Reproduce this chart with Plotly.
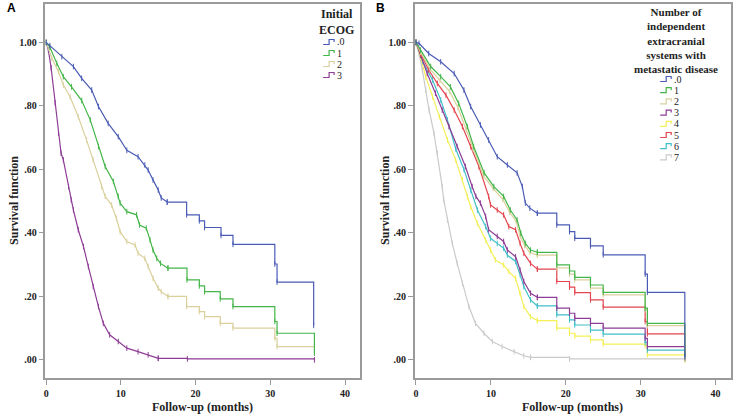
import plotly.graph_objects as go

# ---------------- data ----------------
# Panel A: Initial ECOG
A0_t = [0, 0.5, 2.1, 3.65, 4.76, 6.1, 7.0, 8.3, 9.65, 10.8, 12.3, 13.2, 13.65, 14.3, 15.0, 15.4, 16.2,
        18.8, 20.5, 21.2, 23.4, 25.0, 30.6, 30.9, 35.8]
A0_s = [1.0, 0.99, 0.955, 0.924, 0.887, 0.85, 0.798, 0.745, 0.703, 0.66, 0.64, 0.614, 0.598, 0.567, 0.535, 0.51, 0.497,
        0.457, 0.438, 0.417, 0.392, 0.364, 0.302, 0.245, 0.109]
A1_t = [0, 0.5, 1.43, 2.3, 3.4, 4.76, 5.9, 7.0, 7.9, 9.0, 9.65, 9.9, 10.8, 12.1, 12.5, 13.4, 13.9, 14.3, 14.8, 15.3, 16.3,
        18.85, 20.5, 21.2, 23.3, 25.0, 30.6, 30.9, 35.9]
A1_s = [1.0, 0.985, 0.934, 0.892, 0.86, 0.817, 0.756, 0.672, 0.609, 0.562, 0.515, 0.494, 0.467, 0.457, 0.425, 0.415, 0.378, 0.346, 0.32, 0.304, 0.289,
        0.252, 0.233, 0.215, 0.192, 0.168, 0.121, 0.084, 0.021]
A2_t = [0, 0.76, 1.65, 2.3, 3.2, 4.3, 5.4, 6.3, 7.4, 7.9, 8.76, 9.4, 9.9, 10.8, 11.9, 12.3, 13.2, 13.65, 14.3, 15.0, 15.4, 16.3,
        18.8, 20.5, 21.2, 23.3, 25.0, 30.6, 30.9, 35.9]
A2_s = [1.0, 0.95, 0.908, 0.866, 0.829, 0.766, 0.693, 0.63, 0.546, 0.515, 0.488, 0.446, 0.404, 0.373, 0.362, 0.336, 0.32, 0.294, 0.257, 0.226, 0.215, 0.2,
        0.168, 0.152, 0.136, 0.115, 0.1, 0.068, 0.042, 0.042]
A3_t = [0, 0.3, 0.67, 1.2, 1.65, 2.0, 2.3, 3.0, 3.35, 3.65, 4.3, 5.0, 5.65, 6.3, 7.0, 7.65, 8.5, 9.65, 10.8, 12.3, 13.65, 15.0,
        18.9, 35.9]
A3_s = [1.0, 0.976, 0.92, 0.81, 0.714, 0.651, 0.63, 0.546, 0.504, 0.472, 0.41, 0.357, 0.294, 0.231, 0.168, 0.115, 0.079, 0.058, 0.037, 0.026, 0.016, 0.005,
        0.003, 0.0]

# Panel B: number of independent extracranial systems with metastatic disease
B0_t = [0, 0.4, 1.7, 3.3, 5.1, 6.4, 7.3, 8.6, 9.7, 10.85, 12.2, 13.5, 14.2, 14.6, 15.2, 16.2,
        18.8, 20.5, 21.2, 23.3, 25.0, 30.6, 30.9, 35.9]
B0_s = [1.0, 0.997, 0.965, 0.939, 0.902, 0.85, 0.798, 0.74, 0.693, 0.64, 0.614, 0.589, 0.546, 0.494, 0.478, 0.462,
        0.425, 0.404, 0.383, 0.359, 0.331, 0.27, 0.213, 0.01]
B1_t = [0, 0.6, 1.96, 3.3, 4.6, 5.7, 6.85, 7.7, 9.1, 10.4, 11.7, 12.6, 13.5, 14.0, 14.6, 15.3, 16.2,
        18.8, 20.5, 21.2, 23.3, 25.0, 30.6, 30.9, 35.9]
B1_s = [1.0, 0.976, 0.924, 0.892, 0.86, 0.808, 0.735, 0.672, 0.589, 0.546, 0.515, 0.472, 0.441, 0.399, 0.367, 0.346, 0.339,
        0.299, 0.28, 0.26, 0.236, 0.213, 0.163, 0.115, 0.016]
B2_t = [0, 0.6, 1.9, 3.2, 4.5, 5.6, 6.7, 7.6, 9.0, 10.3, 11.6, 12.5, 13.4, 13.9, 14.5, 15.2, 16.2,
        18.8, 20.5, 21.2, 23.3, 25.0, 30.6, 30.9, 35.9]
B2_s = [1.0, 0.97, 0.915, 0.88, 0.845, 0.795, 0.725, 0.665, 0.58, 0.54, 0.505, 0.465, 0.435, 0.39, 0.36, 0.338, 0.33,
        0.29, 0.27, 0.252, 0.226, 0.205, 0.158, 0.108, 0.005]
B3_t = [0, 0.6, 1.5, 2.6, 3.5, 4.4, 5.5, 6.6, 7.5, 8.0, 8.6, 9.3, 9.7, 10.85, 11.7, 12.2, 13.3, 13.9, 14.4, 15.3, 16.2,
        18.8, 20.5, 21.2, 23.3, 25.0, 30.6, 30.9, 35.9]
B3_s = [1.0, 0.96, 0.902, 0.84, 0.787, 0.735, 0.672, 0.609, 0.546, 0.515, 0.494, 0.452, 0.41, 0.389, 0.373, 0.346, 0.325, 0.283, 0.247, 0.21, 0.197,
        0.163, 0.147, 0.131, 0.115, 0.1, 0.068, 0.042, 0.005]
B4_t = [0, 0.6, 1.3, 2.2, 3.1, 4.2, 5.3, 6.2, 6.85, 7.3, 8.2, 9.3, 9.96, 10.6, 11.7, 12.4, 13.3, 13.9, 14.4, 15.3, 16.2,
        18.8, 20.5, 21.2, 23.3, 25.0, 30.6, 30.9, 35.9]
B4_s = [1.0, 0.955, 0.892, 0.829, 0.766, 0.693, 0.63, 0.567, 0.515, 0.483, 0.43, 0.378, 0.346, 0.315, 0.299, 0.278, 0.257, 0.21, 0.168, 0.136, 0.124,
        0.1, 0.084, 0.075, 0.063, 0.05, 0.045, 0.016, 0.0]
B5_t = [0, 0.6, 1.7, 2.85, 4.0, 5.1, 6.2, 7.3, 8.4, 9.7, 9.96, 10.85, 11.7, 12.4, 13.3, 13.9, 14.4, 15.3, 16.2,
        18.8, 20.5, 21.2, 23.3, 25.0, 30.6, 30.9, 35.9]
B5_s = [1.0, 0.965, 0.913, 0.871, 0.834, 0.787, 0.735, 0.672, 0.609, 0.515, 0.488, 0.472, 0.457, 0.42, 0.41, 0.367, 0.336, 0.304, 0.286,
        0.247, 0.229, 0.212, 0.189, 0.166, 0.121, 0.082, 0.02]
B6_t = [0, 0.9, 2.2, 3.3, 4.2, 5.3, 6.4, 7.3, 8.2, 9.3, 9.96, 10.85, 11.7, 12.2, 13.3, 13.9, 14.4, 15.3, 16.2,
        18.8, 20.5, 21.2, 23.3, 25.0, 30.6, 30.9, 35.9]
B6_s = [1.0, 0.94, 0.882, 0.819, 0.756, 0.665, 0.6, 0.535, 0.472, 0.42, 0.383, 0.367, 0.352, 0.33, 0.31, 0.268, 0.231, 0.189, 0.17,
        0.142, 0.126, 0.11, 0.094, 0.081, 0.055, 0.031, 0.005]
B7_t = [0, 0.4, 0.85, 1.3, 1.75, 2.4, 2.85, 3.5, 3.7, 4.2, 4.85, 5.5, 6.2, 7.07, 7.95, 9.07, 10.2, 11.5, 13.1, 14.4, 15.3,
        20.5, 35.9]
B7_s = [1.0, 0.965, 0.913, 0.85, 0.787, 0.714, 0.651, 0.546, 0.504, 0.441, 0.367, 0.304, 0.241, 0.168, 0.115, 0.084, 0.058, 0.042, 0.026, 0.013, 0.008,
        0.003, 0.0]

A_labels = [".0", "1", "2", "3"]
B_labels = [".0", "1", "2", "3", "4", "5", "6", "7"]
A_title = ["Initial", "ECOG"]
B_title = ["Number of", "independent", "extracranial", "systems with", "metastatic disease"]
x_ticks = [0, 10, 20, 30, 40]
y_ticks = [0, 0.2, 0.4, 0.6, 0.8, 1.0]
y_ticktext = [".00", ".20", ".40", ".60", ".80", "1.00"]

# ---------------- style ----------------
W, H = 735, 418
C = {".0": "#4a5bb5", "1": "#43b548", "2": "#d9d09c", "3": "#8e3d96",
     "4": "#f3ef55", "5": "#e2454f", "6": "#40bfc8", "7": "#cacaca"}
SERIF = "Liberation Serif, Times New Roman, serif"
FRAME = "#9a9a9a"

def px(x):
    return x / W

def py(y):
    return 1 - y / H

fig = go.Figure()

def add_curve(t, s, label, step_from, xa, ya):
    col = C[label]
    k = t.index(step_from)
    mk = dict(symbol="line-ns", size=4, line=dict(width=1, color=col), color=col)
    fig.add_trace(go.Scatter(x=t[:k + 1], y=s[:k + 1], mode="lines+markers", line=dict(color=col, width=1.2),
                             marker=mk, xaxis=xa, yaxis=ya, showlegend=False, hoverinfo="skip"))
    fig.add_trace(go.Scatter(x=t[k:], y=s[k:], mode="lines+markers", line=dict(color=col, width=1.2, shape="hv"),
                             marker=mk, xaxis=xa, yaxis=ya, showlegend=False, hoverinfo="skip"))

# panel A (draw order: 3, 2, 1, 0)
add_curve(A3_t, A3_s, "3", 15.0, "x", "y")
add_curve(A2_t, A2_s, "2", 16.3, "x", "y")
add_curve(A1_t, A1_s, "1", 16.3, "x", "y")
add_curve(A0_t, A0_s, ".0", 16.2, "x", "y")
# panel B
add_curve(B7_t, B7_s, "7", 15.3, "x2", "y2")
add_curve(B4_t, B4_s, "4", 16.2, "x2", "y2")
add_curve(B6_t, B6_s, "6", 16.2, "x2", "y2")
add_curve(B3_t, B3_s, "3", 16.2, "x2", "y2")
add_curve(B5_t, B5_s, "5", 16.2, "x2", "y2")
add_curve(B2_t, B2_s, "2", 16.2, "x2", "y2")
add_curve(B1_t, B1_s, "1", 16.2, "x2", "y2")
add_curve(B0_t, B0_s, ".0", 16.2, "x2", "y2")

xax = dict(range=[-0.1, 42], tickvals=x_ticks, ticks="outside", ticklen=5, tickcolor=FRAME,
           showline=True, linecolor=FRAME, linewidth=1.5, mirror=True, showgrid=False, zeroline=False,
           tickfont=dict(family=SERIF, size=10, color="#222", weight="bold"))
yax = dict(range=[-0.057, 1.121], tickvals=y_ticks, ticktext=y_ticktext, ticks="outside", ticklen=5, tickcolor=FRAME,
           showline=True, linecolor=FRAME, linewidth=1.5, mirror=True, showgrid=False, zeroline=False,
           tickfont=dict(family=SERIF, size=10, color="#222", weight="bold"))

ydom = [py(378), py(4)]
fig.update_layout(
    width=W, height=H, margin=dict(l=0, r=0, t=0, b=0),
    paper_bgcolor="white", plot_bgcolor="white", showlegend=False,
    xaxis=dict(xax, domain=[px(43.5), px(359)], anchor="y"),
    yaxis=dict(yax, domain=ydom, anchor="x"),
    xaxis2=dict(xax, domain=[px(414), px(730.5)], anchor="y2", range=[-0.15, 42]),
    yaxis2=dict(yax, domain=ydom, anchor="x2"),
)

ann = []
shapes = []
# panel letters
ann.append(dict(x=px(3), y=py(8), xref="paper", yref="paper", text="<b>A</b>", showarrow=False,
                xanchor="left", yanchor="middle", font=dict(family="Liberation Sans, Arial", size=12, color="black")))
ann.append(dict(x=px(373), y=py(8), xref="paper", yref="paper", text="<b>B</b>", showarrow=False,
                xanchor="left", yanchor="middle", font=dict(family="Liberation Sans, Arial", size=12, color="black")))
# axis titles
for cx, xl in [(201, 12), (572, 384)]:
    ann.append(dict(x=px(cx), y=py(407), xref="paper", yref="paper", text="<b>Follow-up (months)</b>",
                    showarrow=False, xanchor="center", yanchor="middle",
                    font=dict(family=SERIF, size=12, color="#222")))
    ann.append(dict(x=px(xl), y=py(200), xref="paper", yref="paper", text="<b>Survival function</b>",
                    showarrow=False, xanchor="center", yanchor="middle", textangle=-90,
                    font=dict(family=SERIF, size=12, color="#222")))

# custom legends (step-shaped icons, like the original)
def legend(title, tcx, ttop, fsize, labels, iy0, idy, ix0):
    ann.append(dict(x=px(tcx), y=py(ttop), xref="paper", yref="paper",
                    text="<br>".join("<b>" + line + "</b>" for line in title),
                    showarrow=False, xanchor="center", yanchor="top", align="center",
                    borderpad=0, font=dict(family=SERIF, size=fsize, color="#222")))
    for i, lab in enumerate(labels):
        y = iy0 + i * idy
        col = C[lab]
        path = "M %f,%f L %f,%f L %f,%f L %f,%f L %f,%f" % (
            px(ix0), py(y + 2.5), px(ix0 + 6), py(y + 2.5), px(ix0 + 6), py(y - 2.5),
            px(ix0 + 11), py(y - 2.5), px(ix0 + 11), py(y))
        shapes.append(dict(type="path", path=path, xref="paper", yref="paper",
                           line=dict(color=col, width=1.2)))
        ann.append(dict(x=px(ix0 + 12), y=py(y), xref="paper", yref="paper", text=lab,
                        showarrow=False, xanchor="left", yanchor="middle",
                        font=dict(family=SERIF, size=10, color="#222")))

legend(A_title, 335, 6, 12, A_labels, 42, 11, 322)
legend(B_title, 676, 5, 11, B_labels, 79, 11.2, 660)

fig.update_layout(annotations=ann, shapes=shapes)
fig.write_html("out.html", config={"displayModeBar": False},
               post_script="document.body.style.margin='0';document.body.style.overflow='hidden';")
